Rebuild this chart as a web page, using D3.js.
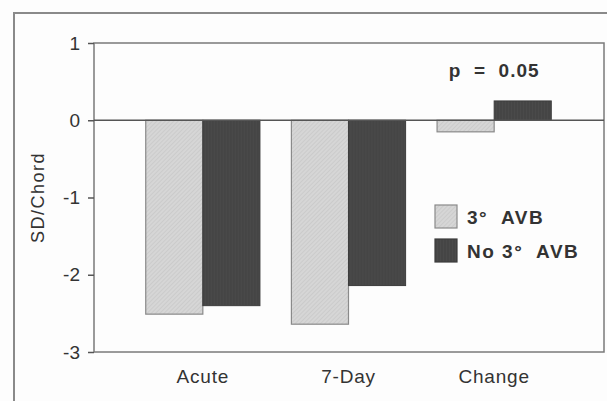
<!DOCTYPE html>
<html lang="en">
<head>
<meta charset="utf-8">
<script src="https://d3js.org/d3.v7.min.js"></script>
<style>
  body { margin: 0; background: #fdfdfd; }
  svg { display: block; font-family: "Liberation Sans", Arial, sans-serif; }
</style>
</head>
<body>
<svg width="607" height="401"></svg>
<script>
// data
var categories = ["Acute", "7-Day", "Change"];
var seriesNames = ["3\u00b0  AVB", "No 3\u00b0  AVB"];
var avb = [-2.51, -2.64, -0.15];
var noAvb = [-2.40, -2.14, 0.25];
var yTicks = [1, 0, -1, -2, -3];
var pLabel = "p  =  0.05";

var svg = d3.select("svg");
var plotLeft = 94, plotRight = 604, plotTop = 43, plotBottom = 352;

// hatched fills
var defs = svg.append("defs");
var pl = defs.append("pattern").attr("id", "light")
  .attr("patternUnits", "userSpaceOnUse").attr("width", 3).attr("height", 3)
  .attr("patternTransform", "rotate(45)");
pl.append("rect").attr("width", 3).attr("height", 3).attr("fill", "#d6d6d6");
pl.append("line").attr("x1", 0).attr("y1", 0).attr("x2", 0).attr("y2", 3)
  .attr("stroke", "#c0c0c0").attr("stroke-width", 1);
var pd = defs.append("pattern").attr("id", "dark")
  .attr("patternUnits", "userSpaceOnUse").attr("width", 3).attr("height", 3);
pd.append("rect").attr("width", 3).attr("height", 3).attr("fill", "#4a4a4a");
pd.append("line").attr("x1", 1).attr("y1", 0).attr("x2", 1).attr("y2", 3)
  .attr("stroke", "#404040").attr("stroke-width", 1);

// outer frame
svg.append("path")
  .attr("d", "M14,401V13H607")
  .attr("fill", "none").attr("stroke", "#8a8a8a").attr("stroke-width", 2);

var y = d3.scaleLinear().domain([-3, 1]).range([plotBottom, plotTop]);
var x = d3.scaleBand().domain(categories)
  .range([plotLeft + 36, plotRight - 37]).paddingInner(0.216).paddingOuter(0.108);
var x1 = d3.scaleBand().domain([0, 1]).range([0, x.bandwidth()]);

// plot box
svg.append("rect")
  .attr("x", plotLeft).attr("y", plotTop)
  .attr("width", plotRight - plotLeft).attr("height", plotBottom - plotTop)
  .attr("fill", "none").attr("stroke", "#7a7a7a").attr("stroke-width", 1.5);

// y axis
var yAxis = svg.append("g")
  .attr("transform", "translate(" + plotLeft + ",0)")
  .call(d3.axisLeft(y).tickValues(yTicks).tickSize(6).tickPadding(8)
    .tickFormat(function (d) { return d; }));
yAxis.select(".domain").remove();
yAxis.selectAll("line").attr("stroke", "#555").attr("stroke-width", 1.5);
yAxis.selectAll("text").attr("font-size", 19).attr("fill", "#333")
  .attr("font-family", "Liberation Sans, Arial, sans-serif");

svg.append("text")
  .attr("transform", "translate(44," + y(-1) + ") rotate(-90)")
  .attr("text-anchor", "middle")
  .attr("font-size", 18).attr("letter-spacing", 1.5).attr("fill", "#333")
  .text("SD/Chord");

// bars
var groups = svg.selectAll(".grp")
  .data(categories)
  .enter().append("g")
  .attr("transform", function (d) { return "translate(" + x(d) + ",0)"; });

groups.append("rect")
  .attr("x", x1(0)).attr("width", x1.bandwidth())
  .attr("y", function (d, i) { return y(Math.max(0, avb[i])); })
  .attr("height", function (d, i) { return Math.abs(y(avb[i]) - y(0)); })
  .attr("fill", "url(#light)").attr("stroke", "#8a8a8a").attr("stroke-width", 1.2);

groups.append("rect")
  .attr("x", x1(1)).attr("width", x1.bandwidth())
  .attr("y", function (d, i) { return y(Math.max(0, noAvb[i])); })
  .attr("height", function (d, i) { return Math.abs(y(noAvb[i]) - y(0)); })
  .attr("fill", "url(#dark)").attr("stroke", "#3c3c3c").attr("stroke-width", 1);

// zero line
svg.append("line")
  .attr("x1", plotLeft).attr("x2", plotRight).attr("y1", y(0)).attr("y2", y(0))
  .attr("stroke", "#555").attr("stroke-width", 1.5);

// category labels
svg.selectAll(".cat")
  .data(categories)
  .enter().append("text")
  .attr("x", function (d) { return x(d) + x.bandwidth() / 2; })
  .attr("y", 383)
  .attr("text-anchor", "middle")
  .attr("font-size", 19).attr("letter-spacing", 0.8).attr("fill", "#333")
  .text(function (d) { return d; });

// p value
svg.append("text")
  .attr("x", x("Change") + x.bandwidth() / 2)
  .attr("y", 77)
  .attr("text-anchor", "middle")
  .attr("font-size", 19).attr("font-weight", "bold").attr("letter-spacing", 1)
  .attr("fill", "#333")
  .style("white-space", "pre")
  .text(pLabel);

// legend
var legend = svg.selectAll(".leg")
  .data(seriesNames)
  .enter().append("g")
  .attr("transform", function (d, i) { return "translate(435," + (205 + i * 34) + ")"; });
legend.append("rect")
  .attr("width", 22).attr("height", 23)
  .attr("fill", function (d, i) { return i === 0 ? "url(#light)" : "url(#dark)"; })
  .attr("stroke", function (d, i) { return i === 0 ? "#8a8a8a" : "#3c3c3c"; })
  .attr("stroke-width", 1.2);
legend.append("text")
  .attr("x", 32).attr("y", 19)
  .attr("font-size", 19).attr("font-weight", "bold").attr("letter-spacing", 1.5)
  .attr("fill", "#333")
  .style("white-space", "pre")
  .text(function (d) { return d; });
</script>
</body>
</html>
